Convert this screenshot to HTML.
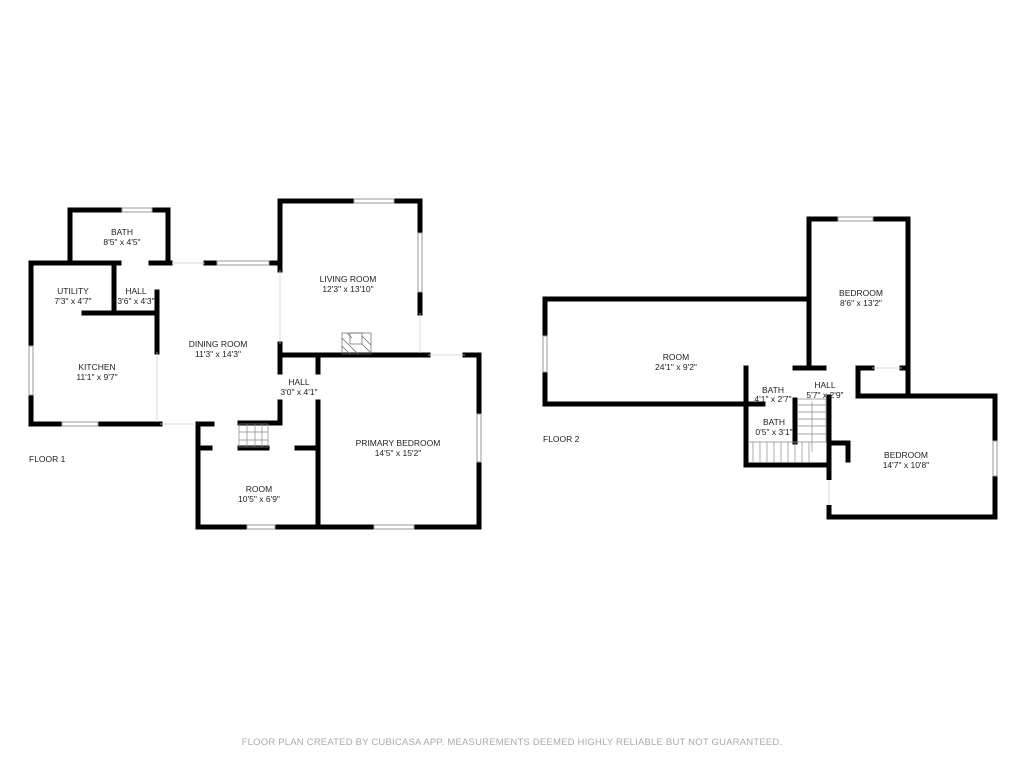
<!DOCTYPE html>
<html><head><meta charset="utf-8"><style>
html,body{margin:0;padding:0;background:#fff;}
svg{display:block;}
text{font-family:"Liberation Sans",sans-serif;font-size:8.5px;fill:#222;text-anchor:middle;}
.w{stroke:#000;stroke-width:5;fill:none;stroke-linecap:square;}
.win{stroke:#999;stroke-width:1;fill:#fff;}
.t{stroke:#888;stroke-width:0.7;fill:none;}
</style></head><body>
<svg width="1024" height="768" viewBox="0 0 1024 768" xmlns="http://www.w3.org/2000/svg">
<g class="w">
<polyline points="70,263 70,210 122,210"/><polyline points="152,210 168,210 168,263"/>
<line x1="31" y1="263" x2="119" y2="263"/>
<line x1="151" y1="263" x2="170" y2="263"/>
<line x1="206" y1="263" x2="216" y2="263"/>
<line x1="269" y1="263" x2="279" y2="263"/>
<line x1="31" y1="263" x2="31" y2="346"/><line x1="31" y1="395" x2="31" y2="424"/>
<line x1="31" y1="424" x2="62" y2="424"/><line x1="98" y1="424" x2="160" y2="424"/>
<line x1="114" y1="263" x2="114" y2="312"/>
<line x1="84" y1="313" x2="157" y2="313"/>
<line x1="157" y1="292" x2="157" y2="352"/>
<line x1="280" y1="201" x2="280" y2="270"/>
<line x1="280" y1="344" x2="280" y2="355"/>
<line x1="280" y1="358" x2="280" y2="372"/>
<line x1="280" y1="402" x2="280" y2="423"/>
<line x1="198" y1="424" x2="212" y2="424"/>
<line x1="240" y1="423" x2="280" y2="423"/>
<line x1="280" y1="201" x2="354" y2="201"/><line x1="394" y1="201" x2="420" y2="201"/>
<line x1="420" y1="201" x2="420" y2="233"/><line x1="420" y1="292" x2="420" y2="313"/>
<line x1="280" y1="355" x2="428" y2="355"/>
<line x1="465" y1="355" x2="479" y2="355"/>
<line x1="479" y1="355" x2="479" y2="414"/><line x1="479" y1="462" x2="479" y2="527"/>
<line x1="318" y1="358" x2="318" y2="372"/><line x1="318" y1="402" x2="318" y2="527"/>
<line x1="198" y1="424" x2="198" y2="527"/>
<line x1="198" y1="527" x2="247" y2="527"/><line x1="275" y1="527" x2="374" y2="527"/><line x1="414" y1="527" x2="479" y2="527"/>
<line x1="198" y1="448" x2="210" y2="448"/><line x1="240" y1="448" x2="267" y2="448"/><line x1="297" y1="448" x2="316" y2="448"/>
<line x1="809" y1="219" x2="838" y2="219"/><line x1="873" y1="219" x2="908" y2="219"/>
<line x1="809" y1="219" x2="809" y2="368"/>
<line x1="908" y1="219" x2="908" y2="396"/>
<line x1="545" y1="299" x2="809" y2="299"/>
<line x1="545" y1="299" x2="545" y2="336"/><line x1="545" y1="372" x2="545" y2="404"/>
<line x1="545" y1="404" x2="763" y2="404"/>
<line x1="746" y1="368" x2="746" y2="465"/>
<line x1="746" y1="465" x2="829" y2="465"/>
<line x1="795" y1="400" x2="795" y2="442"/>
<line x1="829" y1="397" x2="829" y2="517"/>
<line x1="829" y1="443" x2="848" y2="443"/><line x1="848" y1="443" x2="848" y2="460"/>
<line x1="795" y1="368" x2="824" y2="368"/>
<line x1="858" y1="368" x2="872" y2="368"/><line x1="902" y1="368" x2="906" y2="368"/>
<line x1="858" y1="368" x2="858" y2="396"/>
<line x1="858" y1="396" x2="995" y2="396"/>
<line x1="995" y1="396" x2="995" y2="441"/><line x1="995" y1="476" x2="995" y2="517"/>
<line x1="829" y1="517" x2="995" y2="517"/>
</g>
<rect x="826" y="480" width="6" height="25" fill="#fff"/>
<line x1="829" y1="480" x2="829" y2="505" stroke="#bbb" stroke-width="0.6"/>
<g class="win">
<rect x="122" y="208" width="30" height="4"/>
<rect x="217" y="261" width="52" height="4"/>
<rect x="354" y="199" width="40" height="4"/>
<rect x="418" y="233" width="4" height="59"/>
<rect x="29" y="346" width="4" height="49"/>
<rect x="62" y="422" width="36" height="4"/>
<rect x="247" y="525" width="28" height="4"/>
<rect x="374" y="525" width="40" height="4"/>
<rect x="477" y="414" width="4" height="48"/>
<rect x="838" y="217" width="35" height="4"/>
<rect x="543" y="336" width="4" height="36"/>
<rect x="993" y="441" width="4" height="35"/>
</g>
<g stroke="#ccc" stroke-width="0.7">
<line x1="172" y1="263" x2="205" y2="263"/>
<line x1="160" y1="424" x2="196" y2="424"/>
<line x1="428" y1="355" x2="465" y2="355"/>
<line x1="420" y1="313" x2="420" y2="353"/>
<line x1="157" y1="352" x2="157" y2="422"/>
<line x1="280" y1="270" x2="280" y2="344"/>
<line x1="872" y1="368" x2="902" y2="368"/>
</g>
<g stroke="#666" stroke-width="0.7" fill="none">
<rect x="342" y="333" width="29" height="21"/>
<rect x="350" y="333" width="12" height="11"/>
<line x1="342" y1="338" x2="358" y2="354"/><line x1="342" y1="346" x2="350" y2="354"/>
<line x1="347" y1="333" x2="352" y2="338"/><line x1="362" y1="336" x2="371" y2="345"/><line x1="362" y1="344" x2="371" y2="353"/>
</g>
<g class="t">
<rect x="239" y="424" width="29" height="23"/>
<line x1="239" y1="432" x2="268" y2="432"/><line x1="239" y1="440" x2="268" y2="440"/>
<line x1="247" y1="424" x2="247" y2="447"/><line x1="255" y1="424" x2="255" y2="447"/><line x1="262" y1="424" x2="262" y2="447"/>
</g>
<g class="t">
<polyline points="749,442 826,442 826,399 797,399"/>
<line x1="797" y1="405" x2="826" y2="405"/><line x1="797" y1="412" x2="826" y2="412"/><line x1="797" y1="419" x2="826" y2="419"/><line x1="797" y1="426" x2="826" y2="426"/><line x1="797" y1="434" x2="826" y2="434"/>
<line x1="753" y1="442" x2="753" y2="463"/><line x1="760" y1="442" x2="760" y2="463"/><line x1="767" y1="442" x2="767" y2="463"/><line x1="774" y1="442" x2="774" y2="463"/><line x1="781" y1="442" x2="781" y2="463"/><line x1="788" y1="442" x2="788" y2="463"/><line x1="795" y1="442" x2="795" y2="463"/><line x1="802" y1="442" x2="802" y2="463"/><line x1="809" y1="442" x2="809" y2="463"/>
<line x1="812" y1="402" x2="812" y2="452"/>
</g>
<text x="122" y="235">BATH</text><text x="122" y="245">8'5" x 4'5"</text>
<text x="73" y="294">UTILITY</text><text x="73" y="304">7'3" x 4'7"</text>
<text x="136" y="294">HALL</text><text x="136" y="304">3'6" x 4'3"</text>
<text x="97" y="370">KITCHEN</text><text x="97" y="380">11'1" x 9'7"</text>
<text x="218" y="347">DINING ROOM</text><text x="218" y="357">11'3" x 14'3"</text>
<text x="348" y="282">LIVING ROOM</text><text x="348" y="292">12'3" x 13'10"</text>
<text x="299" y="385">HALL</text><text x="299" y="395">3'0" x 4'1"</text>
<text x="398" y="446">PRIMARY BEDROOM</text><text x="398" y="456">14'5" x 15'2"</text>
<text x="259" y="492">ROOM</text><text x="259" y="502">10'5" x 6'9"</text>
<text x="29" y="462" style="text-anchor:start">FLOOR 1</text>
<text x="861" y="296">BEDROOM</text><text x="861" y="306">8'6" x 13'2"</text>
<text x="676" y="360">ROOM</text><text x="676" y="370">24'1" x 9'2"</text>
<text x="773" y="393">BATH</text><text x="773" y="402">4'1" x 2'7"</text>
<text x="825" y="388">HALL</text><text x="825" y="398">5'7" x 2'9"</text>
<text x="774" y="425">BATH</text><text x="774" y="435">0'5" x 3'1"</text>
<text x="906" y="458">BEDROOM</text><text x="906" y="468">14'7" x 10'8"</text>
<text x="543" y="442" style="text-anchor:start">FLOOR 2</text>
<text x="512" y="745" style="fill:#aaa;font-size:9.5px;letter-spacing:0.2px">FLOOR PLAN CREATED BY CUBICASA APP. MEASUREMENTS DEEMED HIGHLY RELIABLE BUT NOT GUARANTEED.</text>
</svg>
</body></html>
